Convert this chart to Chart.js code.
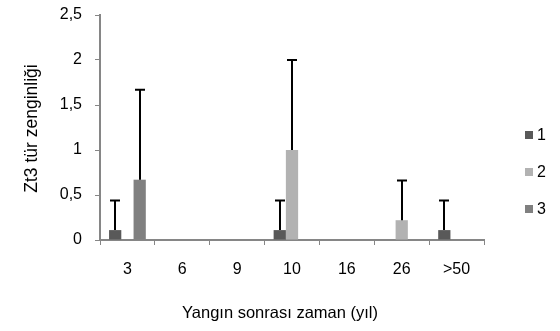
<!DOCTYPE html>
<html>
<head>
<meta charset="utf-8">
<script src="https://cdn.jsdelivr.net/npm/chart.js@4"></script>
<style>
  html, body { margin: 0; padding: 0; background: #fff; }
  #wrap { width: 560px; height: 331px; position: relative; }
</style>
</head>
<body>
<div id="wrap"><canvas id="c" width="560" height="331"></canvas></div>
<script>
const categories = ['3', '6', '9', '10', '16', '26', '>50'];
const seriesNames = ['1', '2', '3'];
const values1 = [0.11, 0, 0, 0.11, 0, 0, 0.11];
const values2 = [0, 0, 0, 1.0, 0, 0.22, 0];
const values3 = [0.67, 0, 0, 0, 0, 0, 0];
const errors1 = [0.33, 0, 0, 0.33, 0, 0, 0.33];
const errors2 = [0, 0, 0, 1.0, 0, 0.44, 0];
const errors3 = [1.0, 0, 0, 0, 0, 0, 0];
const colors = ['#595959', '#b2b2b2', '#808080'];
const yTitle = 'Zt3 tür zenginliği';
const xTitle = 'Yangın sonrası zaman (yıl)';

const FONT = 'Arial, "Liberation Sans", sans-serif';
const FS = 16;
const TFS = 16.5;
const YTFS = 17.5;
const AXIS = '#868686';

const errorBars = {
  id: 'errorBars',
  afterDatasetsDraw(chart) {
    const ctx = chart.ctx;
    const y = chart.scales.y;
    ctx.save();
    ctx.strokeStyle = '#000';
    ctx.lineWidth = 2;
    chart.data.datasets.forEach((ds, di) => {
      const meta = chart.getDatasetMeta(di);
      meta.data.forEach((bar, i) => {
        const e = ds.errors[i];
        if (!e) return;
        const top = y.getPixelForValue(ds.data[i] + e);
        const base = y.getPixelForValue(ds.data[i]);
        const x = Math.round(bar.x);
        ctx.beginPath();
        ctx.moveTo(x, base);
        ctx.lineTo(x, top);
        ctx.moveTo(x - 5, top);
        ctx.lineTo(x + 5, top);
        ctx.stroke();
      });
    });
    ctx.restore();
  }
};

const titlesAndLegend = {
  id: 'titlesAndLegend',
  afterDraw(chart) {
    const ctx = chart.ctx;
    const a = chart.chartArea;
    ctx.save();
    ctx.fillStyle = '#000';
    ctx.textAlign = 'center';
    ctx.textBaseline = 'middle';
    ctx.font = TFS + 'px ' + FONT;
    // x-axis title
    ctx.fillText(xTitle, a.left + 180, a.bottom + 73);
    // y-axis title
    ctx.save();
    ctx.font = YTFS + 'px ' + FONT;
    ctx.translate(32, (a.top + a.bottom) / 2 + 1);
    ctx.rotate(-Math.PI / 2);
    ctx.fillText(yTitle, 0, 0);
    ctx.restore();
    // legend
    ctx.textAlign = 'left';
    ctx.font = FS + 'px ' + FONT;
    chart.data.datasets.forEach((ds, i) => {
      const cy = 135 + i * 37;
      ctx.fillStyle = ds.backgroundColor;
      ctx.fillRect(525, cy - 4, 8, 8);
      ctx.fillStyle = '#000';
      ctx.fillText(ds.label, 537, cy + 1);
    });
    ctx.restore();
  }
};

new Chart(document.getElementById('c'), {
  type: 'bar',
  data: {
    labels: categories,
    datasets: [
      { label: seriesNames[0], data: values1, errors: errors1, backgroundColor: colors[0] },
      { label: seriesNames[1], data: values2, errors: errors2, backgroundColor: colors[1] },
      { label: seriesNames[2], data: values3, errors: errors3, backgroundColor: colors[2] }
    ]
  },
  options: {
    responsive: false,
    animation: false,
    devicePixelRatio: 1,
    layout: { padding: { left: 10, right: 76, top: 15, bottom: 6 } },
    datasets: { bar: { categoryPercentage: 0.67, barPercentage: 1.0 } },
    plugins: { legend: { display: false }, tooltip: { enabled: false } },
    scales: {
      x: {
        grid: { display: true, offset: true, drawOnChartArea: false, tickLength: 5, color: AXIS, lineWidth: 1 },
        border: { color: AXIS, width: 2 },
        ticks: { color: '#000', font: { family: FONT, size: FS }, padding: 15, maxRotation: 0 },
        afterFit(s) { s.height = 331 - 6 - 240; s.paddingLeft = 0; s.paddingRight = 0; }
      },
      y: {
        min: 0, max: 2.5,
        grid: { display: true, drawOnChartArea: false, tickLength: 5, color: AXIS, lineWidth: 1 },
        border: { color: AXIS, width: 2 },
        ticks: {
          stepSize: 0.5, color: '#000', font: { family: FONT, size: FS }, padding: 13,
          callback: v => String(v).replace('.', ',')
        },
        afterFit(s) { s.width = 100 - 10; s.paddingTop = 0; s.paddingBottom = 0; }
      }
    }
  },
  plugins: [errorBars, titlesAndLegend]
});
</script>
</body>
</html>
